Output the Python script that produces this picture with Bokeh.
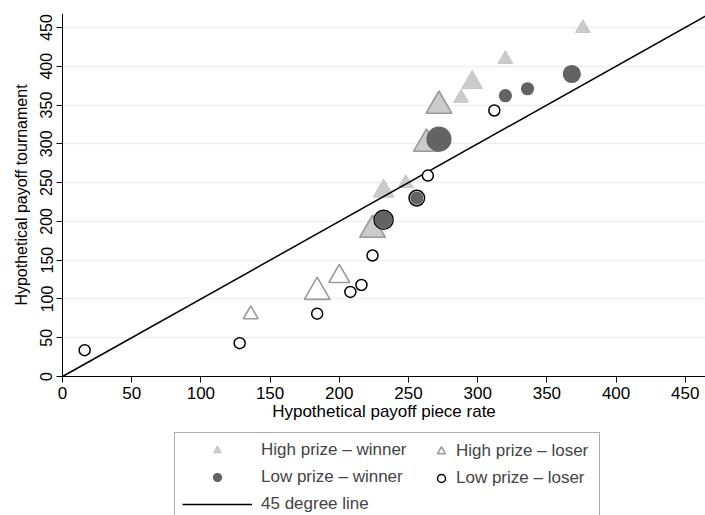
import numpy as np
from bokeh.plotting import figure
from bokeh.models import Range1d, FixedTicker, Legend, LegendItem
from bokeh.embed import file_html
from bokeh.resources import INLINE

# ---- data ----
axis_ticks = [0, 50, 100, 150, 200, 250, 300, 350, 400, 450]

# High prize - winner (filled light-gray triangles); n = number of observations
hw_x = [376, 320, 296, 288, 272, 263, 248, 232, 224]
hw_y = [449, 409, 379, 359, 349, 300, 249, 239, 189]
hw_n = [1, 1, 2, 1, 3, 3, 1, 2, 3]

# High prize - loser (hollow gray triangles)
hl_x = [136, 184, 200, 272, 263, 224]
hl_y = [80, 109, 129, 349, 300, 189]
hl_n = [1, 3, 2, 3, 3, 3]

# Low prize - winner (filled dark-gray circles)
lw_x = [368, 336, 320, 272, 256, 232]
lw_y = [390, 371, 362, 306, 230, 202]
lw_n = [2, 1, 1, 4, 1, 2]

# Low prize - loser (hollow black circles)
ll_x = [16, 128, 184, 208, 216, 224, 264, 312, 232, 256]
ll_y = [34, 43, 81, 109, 118, 156, 259, 343, 202, 230]
ll_n = [1, 1, 1, 1, 1, 1, 1, 1, 3, 2]

# 45 degree reference line
diag = [0, 470]

X_MAX, Y_MAX = 464.6, 468
FONT = "Liberation Sans"


def marker_sizes(n, base):
    return [base * np.sqrt(v) for v in n]


# the frame fills the whole canvas below a small top border; both axes are
# pinned at 0, and the margins they leave hold the axis texts and the legend
p = figure(width=705, height=515, output_backend="svg", toolbar_location=None,
           x_range=Range1d(-44.8, X_MAX), y_range=Range1d(-179.2, Y_MAX),
           min_border_left=0, min_border_right=0, min_border_top=13,
           min_border_bottom=0)
p.outline_line_color = None
p.background_fill_color = "white"
p.border_fill_color = "white"

r_hw = p.scatter(hw_x, hw_y, size=marker_sizes(hw_n, 14.8), marker="triangle",
                 fill_color="#cbcbcb", line_color="#c4c4c4", line_width=1)
r_hl = p.scatter(hl_x, hl_y, size=marker_sizes(hl_n, 14.8), marker="triangle",
                 fill_color=None, line_color="#9a9a9a", line_width=1.6)
r_line = p.line(diag, diag, line_color="black", line_width=1.5)
r_ll = p.scatter(ll_x, ll_y, size=marker_sizes(ll_n, 11), marker="circle",
                 fill_color="white", line_color="black", line_width=1.5)
r_lw = p.scatter(lw_x, lw_y, size=marker_sizes(lw_n, 12), marker="circle",
                 fill_color="#636363", line_color="#636363", line_width=1.2)

# axes
for ax in (p.xaxis[0], p.yaxis[0]):
    ax.ticker = FixedTicker(ticks=axis_ticks)
    ax.fixed_location = 0
    ax.minor_tick_line_color = None
    ax.major_tick_in = 0
    ax.major_tick_out = 6
    ax.axis_line_color = "black"
    ax.major_tick_line_color = "black"
    ax.major_label_text_font = FONT
    ax.axis_label_text_font = FONT
    ax.axis_label_text_font_style = "normal"
    ax.major_label_text_color = "black"
    ax.axis_label_text_color = "black"

p.xaxis.bounds = (0, X_MAX)
p.yaxis.bounds = (0, Y_MAX)
p.xaxis.axis_label = "Hypothetical payoff piece rate"
p.yaxis.axis_label = "Hypothetical payoff tournament"
p.xaxis.major_label_text_font_size = "17px"
p.xaxis.axis_label_text_font_size = "17px"
p.yaxis.major_label_text_font_size = "16px"
p.yaxis.axis_label_text_font_size = "16px"
p.yaxis.major_label_orientation = "vertical"
p.xaxis.major_label_standoff = 4
p.yaxis.major_label_standoff = 4
p.xaxis.axis_label_standoff = 0
p.yaxis.axis_label_standoff = 8

p.xgrid.grid_line_color = None
ygrid = p.ygrid[0]
ygrid.ticker = FixedTicker(ticks=axis_ticks[1:])
ygrid.grid_line_color = "#e8f0f2"
ygrid.grid_line_width = 1.5
if "cross_bounds" in ygrid.properties():
    ygrid.cross_bounds = (0, X_MAX)
else:
    ygrid.visible = False
    gy = axis_ticks[1:]
    p.segment(x0=[0] * len(gy), x1=[X_MAX] * len(gy), y0=gy, y1=gy,
              line_color="#e8f0f2", line_width=1.5, level="underlay")

leg_common = dict(orientation="vertical", glyph_height=20, label_height=20,
                  spacing=7, margin=0, label_text_font=FONT,
                  label_text_font_size="17px")

legA = Legend(items=[LegendItem(label="High prize \u2013 winner", renderers=[r_hw]),
                     LegendItem(label="Low prize \u2013 winner", renderers=[r_lw]),
                     LegendItem(label="45 degree line", renderers=[r_line])],
              location=(174, -7), glyph_width=70, label_width=331,
              label_standoff=9, padding=7,
              border_line_color="#5a5a5a", border_line_width=1,
              background_fill_color="white", **leg_common)
p.add_layout(legA, "center")

legB = Legend(items=[LegendItem(label="High prize \u2013 loser", renderers=[r_hl]),
                     LegendItem(label="Low prize \u2013 loser", renderers=[r_ll])],
              location=(431, 27), glyph_width=20, label_standoff=5, padding=0,
              border_line_color=None, background_fill_alpha=0, **leg_common)
p.add_layout(legB, "center")

open("out.html", "w").write(file_html(p, INLINE))
